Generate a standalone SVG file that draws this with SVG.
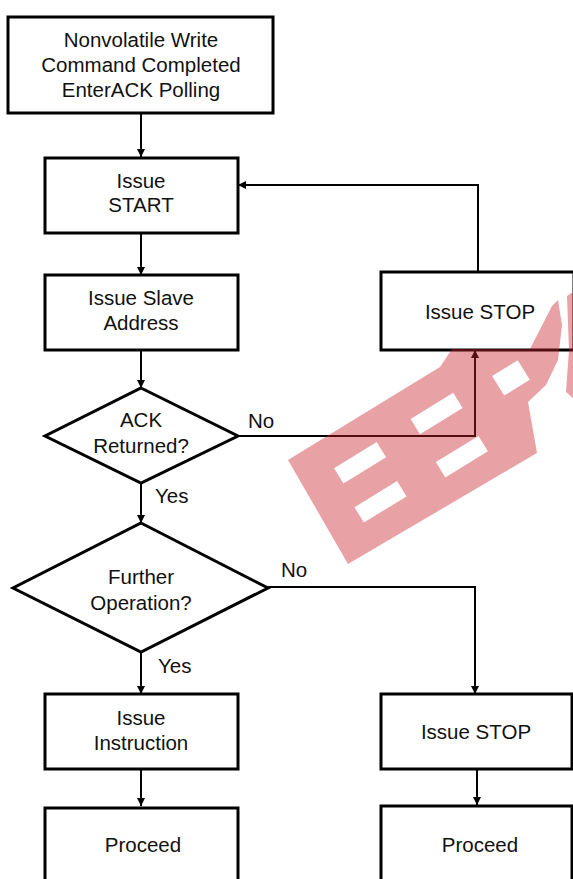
<svg xmlns="http://www.w3.org/2000/svg" width="573" height="879" viewBox="0 0 573 879">
<defs>
<marker id="ah" viewBox="0 0 10 10" refX="10" refY="5" markerWidth="13" markerHeight="8" markerUnits="userSpaceOnUse" orient="auto">
<path d="M0,0 L10,5 L0,10 Z" fill="#000"/>
</marker>
<mask id="wm" maskUnits="userSpaceOnUse" x="0" y="0" width="573" height="879">
<rect x="0" y="0" width="573" height="879" fill="#fff"/>
<g transform="translate(288,460) rotate(-31.5)" fill="#000">
<rect x="35" y="31" width="50" height="18"/>
<rect x="32" y="75" width="50" height="18"/>
<rect x="126" y="29" width="50" height="18"/>
<rect x="125" y="79" width="50" height="18"/>
<rect x="218" y="35" width="30" height="23"/>
</g>
</mask>
<style>
.box{fill:#fff;stroke:#000;stroke-width:3}
.dia{fill:#fff;stroke:#000;stroke-width:3;stroke-linejoin:miter}
.con{fill:none;stroke:#000;stroke-width:2}
.arr{marker-end:url(#ah)}
.wmk{fill:rgb(200,30,40);fill-opacity:0.42}
text{font-family:"Liberation Sans",Arial,Helvetica,sans-serif;font-size:20.5px;fill:#111;text-anchor:middle}
.lbl{text-anchor:start}
</style>
</defs>
<rect width="573" height="879" fill="#fff"/>
<g id="connectors">
<path class="con arr" d="M141,113 V157"/>
<path class="con arr" d="M141,233 V275"/>
<path class="con arr" d="M141,350 V388"/>
<path class="con arr" d="M141,483 V523"/>
<path class="con arr" d="M141,652 V694"/>
<path class="con arr" d="M141,769 V806"/>
<path class="con arr" d="M238,436 H475 V350"/>
<path class="con arr" d="M478,272 V185 H238"/>
<path class="con arr" d="M268,587 H475 V694"/>
<path class="con arr" d="M477,769 V805"/>
<text class="lbl" x="248" y="428">No</text>
<text class="lbl" x="155" y="503">Yes</text>
<text class="lbl" x="281" y="577">No</text>
<text class="lbl" x="158" y="673">Yes</text>
</g>
<g id="n_start_poll">
<rect class="box" x="8" y="17" width="265" height="96"/>
<text x="141" y="47">Nonvolatile Write</text>
<text x="141" y="72">Command Completed</text>
<text x="141" y="97">EnterACK Polling</text>
</g>
<g id="n_issue_start">
<rect class="box" x="45" y="158" width="193" height="75"/>
<text x="141" y="188">Issue</text>
<text x="141" y="212">START</text>
</g>
<g id="n_slave_addr">
<rect class="box" x="45" y="275" width="193" height="75"/>
<text x="141" y="305">Issue Slave</text>
<text x="141" y="330">Address</text>
</g>
<g id="n_stop1">
<rect class="box" x="381" y="272" width="193" height="78"/>
<text x="480" y="319">Issue STOP</text>
</g>
<g id="n_ack">
<polygon class="dia" points="141,388 238,436 141,483 45,436"/>
<text x="141" y="427">ACK</text>
<text x="141" y="453">Returned?</text>
</g>
<g id="n_further">
<polygon class="dia" points="141,523 268,588 141,652 13,588"/>
<text x="141" y="584">Further</text>
<text x="141" y="610">Operation?</text>
</g>
<g id="n_instr">
<rect class="box" x="45" y="694" width="193" height="75"/>
<text x="141" y="725">Issue</text>
<text x="141" y="750">Instruction</text>
</g>
<g id="n_proceed1">
<rect class="box" x="45" y="808" width="193" height="90"/>
<text x="143" y="852">Proceed</text>
</g>
<g id="n_stop2">
<rect class="box" x="381" y="694" width="191" height="75"/>
<text x="476" y="739">Issue STOP</text>
</g>
<g id="n_proceed2">
<rect class="box" x="381" y="806" width="191" height="90"/>
<text x="480" y="852">Proceed</text>
</g>
<g id="watermark" mask="url(#wm)">
<polygon class="wmk" points="288,460 440,367 452,349 530,349 552,306 558,300 562,325 558,360 546,385 528,402 537,453 348,564"/>
<polygon class="wmk" points="567,296 573,292 573,398 566,392 569,350"/>
</g>
</svg>
